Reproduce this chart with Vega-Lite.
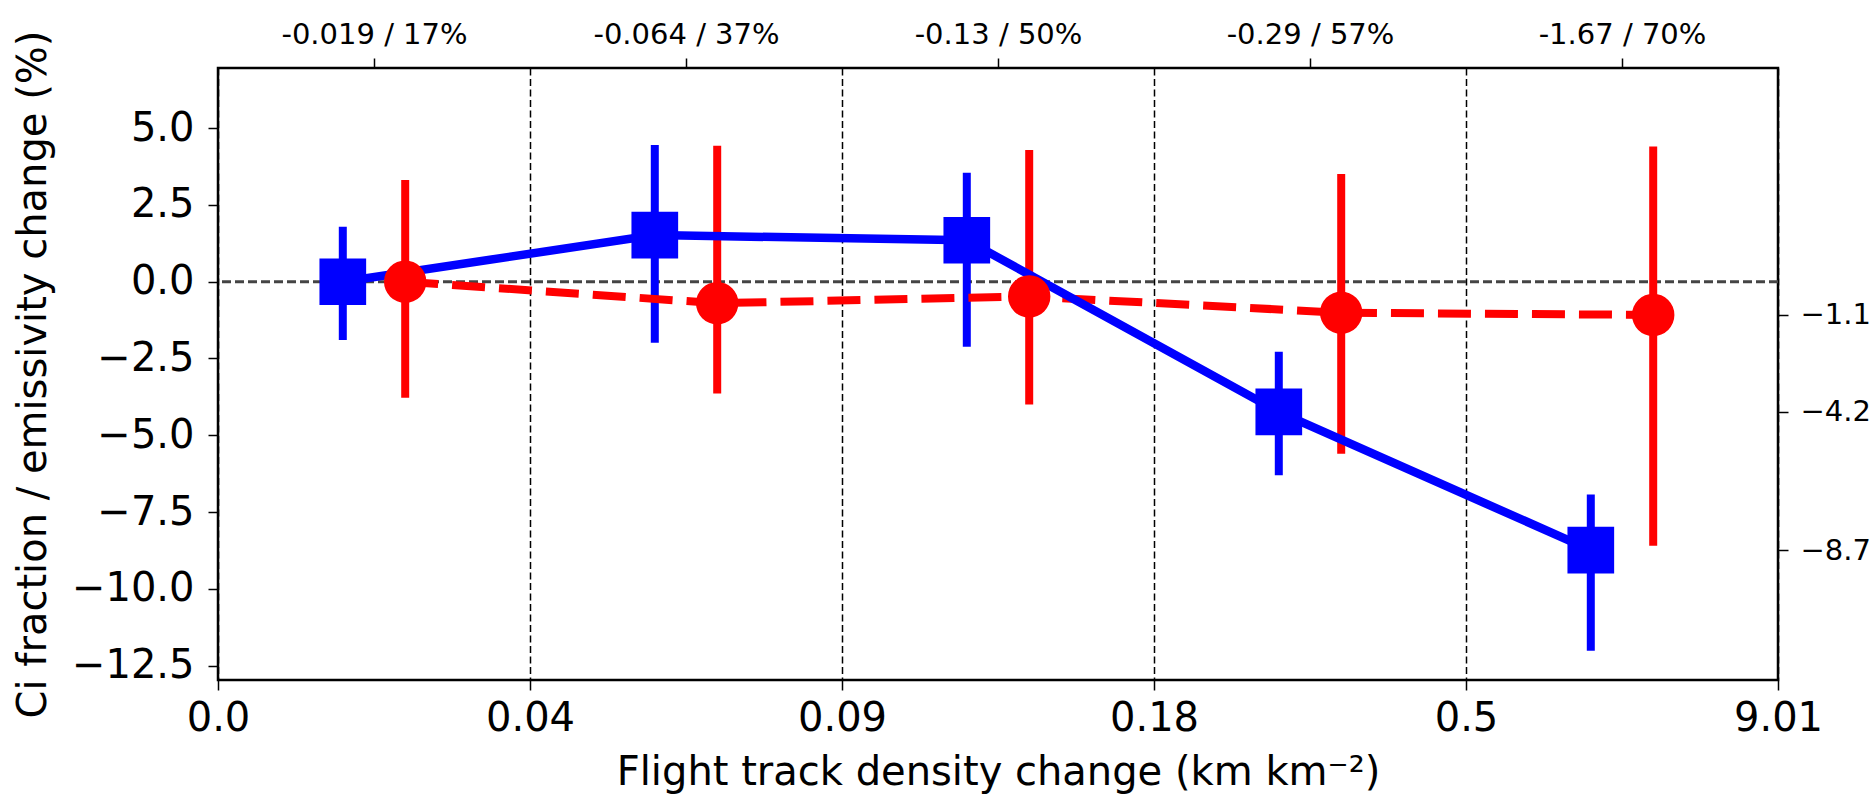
{
  "$schema": "https://vega.github.io/schema/vega-lite/v6.json",
  "autosize": "none",
  "width": 1560,
  "height": 612,
  "padding": {"left": 218, "top": 68, "right": 94, "bottom": 120},
  "background": "white",
  "config": {
    "font": "DejaVu Sans",
    "view": {"stroke": "black", "strokeWidth": 2.5},
    "axis": {"labelColor": "black", "titleColor": "black", "tickColor": "black", "titleFontWeight": "normal", "domain": false, "tickWidth": 1.5, "labelFlush": false, "labelOverlap": false, "labelLimit": 0}
  },
  "datasets": {
    "pts": [
      {"series": "blue", "x": 0.4, "y": 0.0, "lo": -1.90, "hi": 1.79},
      {"series": "blue", "x": 1.4, "y": 1.52, "lo": -1.99, "hi": 4.45},
      {"series": "blue", "x": 2.4, "y": 1.35, "lo": -2.12, "hi": 3.55},
      {"series": "blue", "x": 3.4, "y": -4.24, "lo": -6.30, "hi": -2.28},
      {"series": "blue", "x": 4.4, "y": -8.74, "lo": -12.02, "hi": -6.93},
      {"series": "red", "x": 0.6, "y": 0.0, "lo": -3.78, "hi": 3.31},
      {"series": "red", "x": 1.6, "y": -0.70, "lo": -3.64, "hi": 4.43},
      {"series": "red", "x": 2.6, "y": -0.48, "lo": -4.00, "hi": 4.29},
      {"series": "red", "x": 3.6, "y": -1.01, "lo": -5.60, "hi": 3.51},
      {"series": "red", "x": 4.6, "y": -1.08, "lo": -8.60, "hi": 4.40}
    ]
  },
  "resolve": {"scale": {"x": "shared", "y": "shared"}, "axis": {"x": "independent", "y": "independent"}},
  "layer": [
    {
      "data": {"values": [{"zero": 0}]},
      "mark": {"type": "rule", "color": "#444444", "strokeWidth": 3, "strokeDash": [9, 4]},
      "encoding": {
        "y": {
          "field": "zero", "type": "quantitative",
          "scale": {"domain": [-12.97, 6.96], "nice": false, "zero": false},
          "axis": {
            "orient": "left",
            "values": [-12.5, -10, -7.5, -5, -2.5, 0, 2.5, 5],
            "format": ".1f",
            "labelFontSize": 40,
            "tickSize": 10,
            "labelPadding": 14,
            "grid": false,
            "title": "Ci fraction / emissivity change (%)",
            "titleFontSize": 40,
            "titlePadding": 18
          }
        }
      }
    },
    {
      "data": {"name": "pts"},
      "mark": {"type": "rule", "strokeWidth": 8},
      "encoding": {
        "x": {
          "field": "x", "type": "quantitative",
          "scale": {"domain": [0, 5], "nice": false, "zero": false},
          "axis": {
            "orient": "bottom",
            "values": [0, 1, 2, 3, 4, 5],
            "labelExpr": "['0.0','0.04','0.09','0.18','0.5','9.01'][round(datum.value)]",
            "labelFontSize": 40,
            "tickSize": 10,
            "labelPadding": 8,
            "grid": true,
            "gridColor": "black",
            "gridDash": [7, 3.5],
            "gridWidth": 1.5,
            "gridOpacity": 1,
            "title": "Flight track density change (km km⁻²)",
            "titleFontSize": 40,
            "titlePadding": 14
          }
        },
        "y": {"field": "lo", "type": "quantitative", "axis": null},
        "y2": {"field": "hi"},
        "color": {"field": "series", "type": "nominal", "scale": {"domain": ["blue", "red"], "range": ["#0000ff", "#ff0000"]}, "legend": null}
      }
    },
    {
      "data": {"name": "pts"},
      "transform": [{"filter": "datum.series === 'red'"}],
      "mark": {"type": "line", "color": "#ff0000", "strokeWidth": 8, "strokeDash": [33, 14]},
      "encoding": {
        "x": {
          "field": "x", "type": "quantitative",
          "axis": {
            "orient": "top",
            "values": [0.5, 1.5, 2.5, 3.5, 4.5],
            "labelExpr": "['-0.019 / 17%','-0.064 / 37%','-0.13 / 50%','-0.29 / 57%','-1.67 / 70%'][floor(datum.value)]",
            "labelFontSize": 29,
            "tickSize": 10,
            "labelPadding": 9,
            "grid": false,
            "title": null
          }
        },
        "y": {
          "field": "y", "type": "quantitative",
          "axis": {
            "orient": "right",
            "values": [-1.08, -4.24, -8.74],
            "format": ".1f",
            "labelFontSize": 29,
            "tickSize": 10,
            "labelPadding": 12,
            "grid": false,
            "title": null
          }
        }
      }
    },
    {
      "data": {"name": "pts"},
      "transform": [{"filter": "datum.series === 'blue'"}],
      "mark": {"type": "line", "color": "#0000ff", "strokeWidth": 8.5},
      "encoding": {
        "x": {"field": "x", "type": "quantitative", "axis": null},
        "y": {"field": "y", "type": "quantitative", "axis": null}
      }
    },
    {
      "data": {"name": "pts"},
      "transform": [{"filter": "datum.series === 'blue'"}],
      "mark": {"type": "point", "shape": "square", "filled": true, "size": 2180, "opacity": 1, "color": "#0000ff"},
      "encoding": {
        "x": {"field": "x", "type": "quantitative", "axis": null},
        "y": {"field": "y", "type": "quantitative", "axis": null}
      }
    },
    {
      "data": {"name": "pts"},
      "transform": [{"filter": "datum.series === 'red'"}],
      "mark": {"type": "point", "shape": "circle", "filled": true, "size": 1800, "opacity": 1, "color": "#ff0000"},
      "encoding": {
        "x": {"field": "x", "type": "quantitative", "axis": null},
        "y": {"field": "y", "type": "quantitative", "axis": null}
      }
    }
  ]
}
